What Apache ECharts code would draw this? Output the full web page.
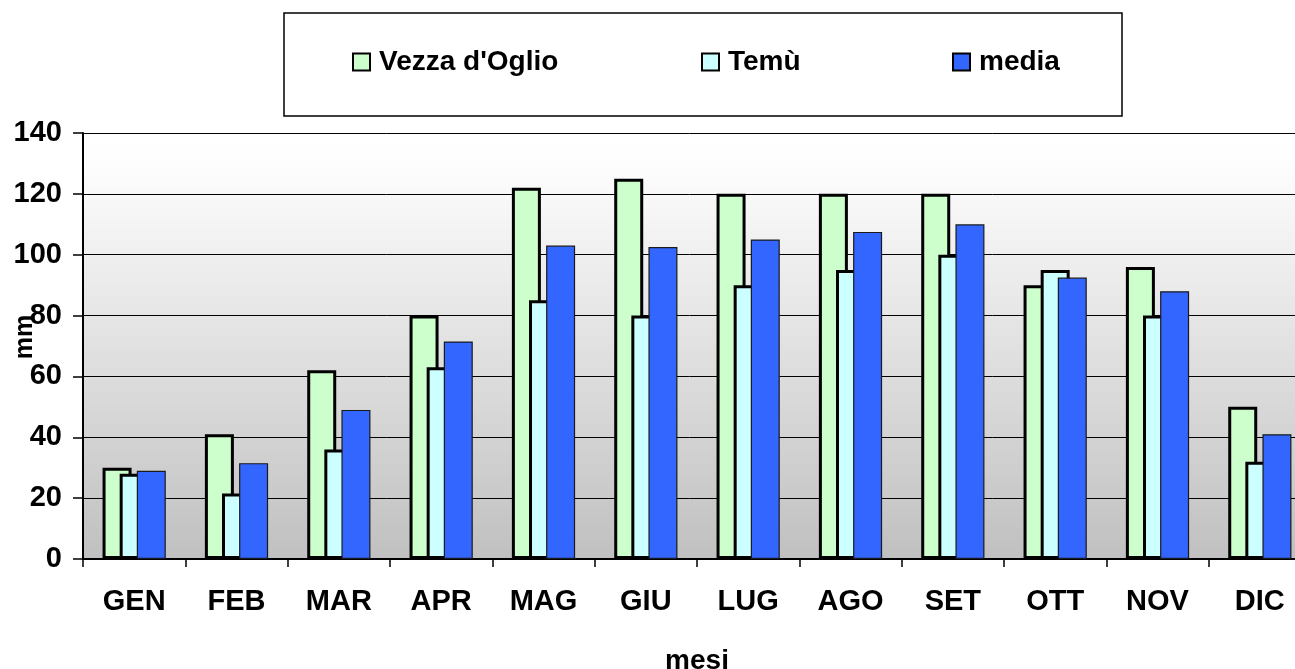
<!DOCTYPE html>
<html>
<head>
<meta charset="utf-8">
<script src="https://cdn.jsdelivr.net/npm/echarts@6/dist/echarts.min.js"></script>
<style>
html,body{margin:0;padding:0;background:#fff;}
#c{width:1295px;height:669px;}
</style>
</head>
<body>
<div id="c"></div>
<script>
const months = ['GEN','FEB','MAR','APR','MAG','GIU','LUG','AGO','SET','OTT','NOV','DIC'];
const vezza = [30, 41, 62, 80, 122, 125, 120, 120, 120, 90, 96, 50];
const temu = [28, 21.5, 36, 63, 85, 80, 90, 95, 100, 95, 80, 32];
const media = [29, 31.5, 49, 71.5, 103, 102.5, 105, 107.5, 110, 92.5, 88, 41];
const seriesNames = ["Vezza d'Oglio", 'Temù', 'media'];
const yTicks = [0, 20, 40, 60, 80, 100, 120, 140];

const FONT = '"Liberation Sans", Arial, sans-serif';
const chart = echarts.init(document.getElementById('c'), null, {renderer: 'canvas'});

const legendBase = {
  orient: 'horizontal',
  icon: 'rect',
  itemWidth: 17,
  itemHeight: 17,
  itemGap: 0,
  top: 43,
  textStyle: {fontFamily: FONT, fontWeight: 'bold', fontSize: 28, color: '#000', padding: [0, 0, 0, 4]},
  itemStyle: {borderWidth: 2, borderColor: '#000'},
  selectedMode: false
};

chart.setOption({
  animation: false,
  backgroundColor: '#fff',
  graphic: [
    {type: 'rect', z: -1, shape: {x: 284, y: 13, width: 838, height: 103},
     style: {fill: '#fff', stroke: '#000', lineWidth: 1.5}},
    {type: 'text', z: 10, x: 25, y: 337, rotation: Math.PI/2,
     style: {text: 'mm', font: 'bold 25px ' + FONT, fill: '#000', textAlign: 'center', textVerticalAlign: 'middle'}}
  ],
  legend: [
    Object.assign({}, legendBase, {data: [seriesNames[0]], left: 347}),
    Object.assign({}, legendBase, {data: [seriesNames[1]], left: 696}),
    Object.assign({}, legendBase, {data: [seriesNames[2]], left: 947})
  ],
  grid: {
    left: 83, top: 133, width: 1228, height: 426,
    containLabel: false,
    outerBoundsMode: 'none',
    show: true, borderWidth: 0,
    backgroundColor: new echarts.graphic.LinearGradient(0, 0, 0, 1, [
      {offset: 0, color: '#ffffff'},
      {offset: 0.08, color: '#fdfdfd'},
      {offset: 1, color: '#c0c0c0'}
    ])
  },
  xAxis: {
    type: 'category',
    data: months,
    boundaryGap: true,
    name: 'mesi',
    nameLocation: 'middle',
    nameGap: 88,
    nameTextStyle: {fontFamily: FONT, fontWeight: 'bold', fontSize: 28, color: '#000'},
    axisLine: {lineStyle: {color: '#000', width: 2}},
    axisTick: {show: true, length: 8, lineStyle: {color: '#000', width: 1.5}},
    axisLabel: {fontFamily: FONT, fontWeight: 'bold', fontSize: 29, color: '#000', margin: 28, interval: 0}
  },
  yAxis: {
    type: 'value',
    min: 0, max: 140, interval: 20,
    axisLine: {show: true, lineStyle: {color: '#000', width: 2}},
    axisTick: {show: true, length: 10, lineStyle: {color: '#000', width: 1.5}},
    axisLabel: {fontFamily: FONT, fontWeight: 'bold', fontSize: 29, color: '#000', margin: 21,
      formatter: v => yTicks.includes(v) ? String(v) : ''},
    splitLine: {show: true, lineStyle: {color: '#000', width: 1}}
  },
  series: [
    {name: seriesNames[0], type: 'bar', data: vezza, barWidth: 29, barGap: '-41%',
     itemStyle: {color: '#CCFFCC', borderColor: '#000', borderWidth: 3}},
    {name: seriesNames[1], type: 'bar', data: temu, barWidth: 29, barGap: '-41%',
     itemStyle: {color: '#CCFFFF', borderColor: '#000', borderWidth: 3}},
    {name: seriesNames[2], type: 'bar', data: media, barWidth: 29, barGap: '-41%',
     itemStyle: {color: '#3366FF', borderColor: '#1a1a1a', borderWidth: 1.2}}
  ]
});
</script>
</body>
</html>
